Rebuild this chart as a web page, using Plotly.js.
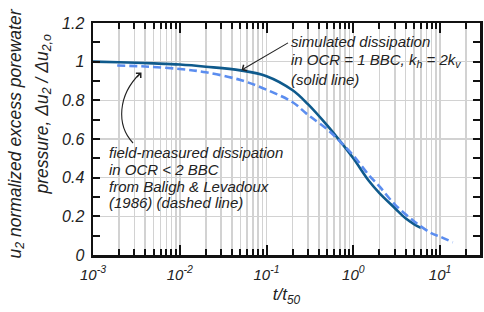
<!DOCTYPE html>
<html>
<head>
<meta charset="utf-8">
<script src="https://cdn.plot.ly/plotly-3.0.1.min.js"></script>
<style>html,body{margin:0;padding:0;background:#fff;}#chart{width:484px;height:312px;}</style>
</head>
<body>
<div id="chart"></div>
<script>
// Simulated dissipation, OCR = 1 BBC, kh = 2kv (solid line)
const simT = [0.001, 0.002, 0.005, 0.01, 0.02, 0.05, 0.1, 0.2, 0.3, 0.5, 0.7, 1.0, 1.5, 2.0, 3.0, 4.0, 5.0, 6.0];
const simU = [1.0, 0.997, 0.991, 0.985, 0.974, 0.955, 0.925, 0.852, 0.78, 0.67, 0.59, 0.50, 0.385, 0.32, 0.243, 0.19, 0.16, 0.14];
// Field-measured dissipation, OCR < 2 BBC, Baligh & Levadoux 1986 (dashed line)
const fieldT = [0.0019, 0.004, 0.01, 0.02, 0.05, 0.1, 0.2, 0.3, 0.5, 0.7, 1.0, 1.5, 2.0, 3.0, 5.0, 8.0, 10, 14];
const fieldU = [0.98, 0.975, 0.962, 0.945, 0.905, 0.855, 0.79, 0.725, 0.65, 0.588, 0.515, 0.415, 0.355, 0.262, 0.175, 0.112, 0.095, 0.066];
// Tick labels
const xTickVals = [0.001, 0.01, 0.1, 1, 10];
const xTickText = ['10<sup>-3</sup>', '10<sup>-2</sup>', '10<sup>-1</sup>', '10<sup>0</sup>', '10<sup>1</sup>'];
const yTickVals = [0, 0.2, 0.4, 0.6, 0.8, 1.0, 1.2];
const yTickText = ['0', '0.2', '0.4', '0.6', '0.8', '1', '1.2'];

const minorX = [];
for (let d = -3; d <= 1; d++) for (let k = 2; k <= 9; k++) minorX.push(k * Math.pow(10, d));

// pixel -> paper helpers (plot area: x 93..480, y 23..255)
const L = 93, R = 4, T = 23, B = 57, W = 484 - L - R, H = 312 - T - B;
const px = x => (x - L) / W;
const py = y => (312 - B - y) / H;

const FONT = 'Liberation Sans, Arial, sans-serif';
const txtFont = {family: FONT, size: 15, color: '#222', style: 'italic'};

const traces = [
  {x: simT, y: simU, type: 'scatter', mode: 'lines', line: {color: '#0f5a8c', width: 2.6, shape: 'spline'}, hoverinfo: 'skip'},
  {x: fieldT, y: fieldU, type: 'scatter', mode: 'lines', line: {color: '#5b8def', width: 2.6, dash: '8px,4px', shape: 'spline'}, hoverinfo: 'skip'}
];

function lineAnn(text, xPix, yPix) {
  return {text: text, xref: 'paper', yref: 'paper', x: px(xPix), y: py(yPix), xanchor: 'left', yanchor: 'middle', showarrow: false, font: txtFont};
}

const annotations = [
  lineAnn('simulated dissipation', 289, 42),
  lineAnn('in OCR = 1 BBC, k<sub>h</sub> = 2k<sub>v</sub>', 289, 60.5),
  lineAnn('(solid line)', 289, 79),
  lineAnn('field-measured dissipation', 107, 152),
  lineAnn('in OCR &lt; 2 BBC', 107, 169),
  lineAnn('from Baligh &amp; Levadoux', 107, 186),
  lineAnn('(1986) (dashed line)', 107, 202),
  // arrow to solid line
  {text: '', xref: 'paper', yref: 'paper', x: px(241.5), y: py(70), ax: 48, ay: -28, showarrow: true, arrowhead: 4, arrowsize: 1.2, arrowwidth: 1.1, arrowcolor: '#222', standoff: 0},
  // arrowhead for curved arrow
  {text: '', xref: 'paper', yref: 'paper', x: px(141.5), y: py(72.5), ax: -6, ay: 6, showarrow: true, arrowhead: 4, arrowsize: 1.2, arrowwidth: 1.1, arrowcolor: '#222', standoff: 0},
  // y axis title lines
  {text: 'u<sub>2</sub> normalized excess porewater', xref: 'paper', yref: 'paper', x: px(15.5), y: py(134), textangle: -90, showarrow: false, xanchor: 'center', yanchor: 'middle', font: {family: FONT, size: 17.5, color: '#222', style: 'italic'}},
  {text: 'pressure, Δu<sub>2</sub> / Δu<sub>2,o</sub>', xref: 'paper', yref: 'paper', x: px(42.5), y: py(115), textangle: -90, showarrow: false, xanchor: 'center', yanchor: 'middle', font: {family: FONT, size: 17.5, color: '#222', style: 'italic'}}
];

const shapes = [
  {type: 'rect', xref: 'paper', yref: 'paper', x0: px(104), x1: px(290), y0: py(212), y1: py(144), fillcolor: '#fff', line: {width: 0}, layer: 'between'},
  {type: 'rect', xref: 'paper', yref: 'paper', x0: px(287), x1: px(470), y0: py(89), y1: py(33), fillcolor: '#fff', line: {width: 0}, layer: 'between'},
  {type: 'path', xref: 'paper', yref: 'paper',
   path: 'M' + px(133) + ',' + py(143) + ' C' + px(116) + ',' + py(125) + ' ' + px(118) + ',' + py(95) + ' ' + px(140) + ',' + py(73.5),
   line: {color: '#222', width: 1.1}, layer: 'above'}
];

const layout = {
  width: 484, height: 312,
  margin: {l: L, r: R, t: T, b: B, pad: 0},
  paper_bgcolor: '#fff', plot_bgcolor: '#fff',
  showlegend: false,
  xaxis: {
    type: 'log', range: [-3, 1.46],
    tickmode: 'array', tickvals: xTickVals, ticktext: xTickText,
    ticks: 'inside', ticklen: 10, tickwidth: 2, tickcolor: '#111',
    showline: true, linecolor: '#111', linewidth: 2.5, mirror: 'allticks',
    showgrid: true, gridcolor: '#d2d2d2', gridwidth: 1.6,
    zeroline: false, ticklabelstandoff: 4,
    tickfont: {family: FONT, size: 15, color: '#222', style: 'italic'},
    minor: {tickmode: 'array', tickvals: minorX, ticks: 'inside', ticklen: 6, tickwidth: 2, tickcolor: '#111', showgrid: true, gridcolor: '#d2d2d2', gridwidth: 1.6},
    title: {text: 't/t<sub>50</sub>', font: {family: FONT, size: 17, color: '#222', style: 'italic'}, standoff: 7}
  },
  yaxis: {
    range: [0, 1.2],
    tickmode: 'array', tickvals: yTickVals, ticktext: yTickText,
    ticks: 'inside', ticklen: 7, tickwidth: 2, tickcolor: '#111',
    showline: true, linecolor: '#111', linewidth: 2.5, mirror: 'allticks',
    showgrid: true, gridcolor: '#d2d2d2', gridwidth: 1.6,
    zeroline: false, ticklabelstandoff: 3,
    tickfont: {family: FONT, size: 16, color: '#222', style: 'italic'},
    minor: {dtick: 0.1, ticks: 'inside', ticklen: 7, tickwidth: 2, tickcolor: '#111', showgrid: false}
  },
  annotations: annotations,
  shapes: shapes
};

Plotly.newPlot('chart', traces, layout, {staticPlot: true, displayModeBar: false});
</script>
</body>
</html>
